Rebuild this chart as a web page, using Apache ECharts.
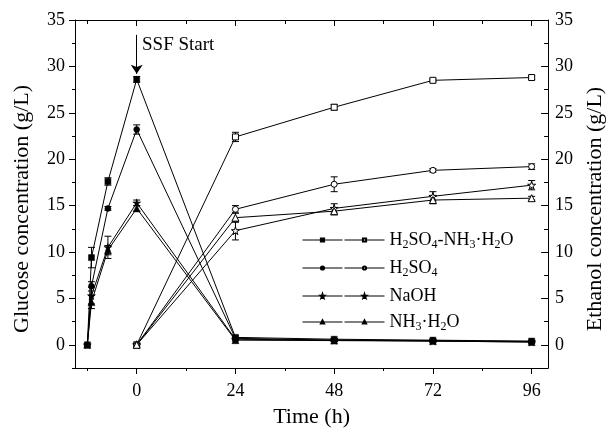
<!DOCTYPE html>
<html>
<head>
<meta charset="utf-8">
<script src="https://cdn.jsdelivr.net/npm/echarts@6/dist/echarts.min.js"></script>
<style>
  html, body { margin: 0; padding: 0; background: #fff; }
  #main { width: 614px; height: 433px; }
</style>
</head>
<body>
<div id="main"></div>
<script>
// time points (h); negative = pre-hydrolysis, 0 = SSF start
var timeGlu = [-12, -11, -7, 0, 24, 48, 72, 96];
var timeEth = [0, 24, 48, 72, 96];
var xMajor = [0, 24, 48, 72, 96];
var xMinor = [-12, 12, 36, 60, 84];
var yMajor = [0, 5, 10, 15, 20, 25, 30, 35];
var yMinor = [-2.5, 2.5, 7.5, 12.5, 17.5, 22.5, 27.5, 32.5];

// legend labels (rich text with subscripts)
var labels = [
  'H{s|2}SO{s|4}-NH{s|3}·H{s|2}O',
  'H{s|2}SO{s|4}',
  'NaOH',
  'NH{s|3}·H{s|2}O'
];

// glucose (g/L), filled markers, left axis
var gluMix  = [0, 9.4, 17.6, 28.6, 0.8, 0.6, 0.5, 0.4];
var gluSA   = [0, 6.3, 14.7, 23.2, 0.7, 0.5, 0.45, 0.35];
var gluNaOH = [0, 5.3, 10.5, 15.3, 0.6, 0.5, 0.4, 0.3];
var gluNH3  = [0, 4.6, 10.2, 14.7, 0.5, 0.45, 0.4, 0.3];
var gluErrMix  = [0, 1.1, 0.4, 0.3, 0.15, 0.1, 0.1, 0.1];
var gluErrSA   = [0, 0.5, 0.2, 0.5, 0.1, 0.1, 0.1, 0.1];
var gluErrNaOH = [0, 0.9, 1.2, 0.3, 0.1, 0.1, 0.1, 0.1];
var gluErrNH3  = [0, 0.7, 0.5, 0.3, 0.1, 0.1, 0.1, 0.1];

// ethanol (g/L), open markers, right axis
var ethMix  = [0, 22.4, 25.6, 28.5, 28.8];
var ethSA   = [0, 14.6, 17.3, 18.8, 19.2];
var ethNaOH = [0, 12.3, 14.7, 16.0, 17.2];
var ethNH3  = [0, 13.7, 14.4, 15.6, 15.8];
var ethErrMix  = [0, 0.5, 0.3, 0.15, 0.2];
var ethErrSA   = [0, 0.4, 0.8, 0.2, 0.3];
var ethErrNaOH = [0, 1.0, 0.5, 0.5, 0.5];
var ethErrNH3  = [0, 0.5, 0.4, 0.4, 0.2];

var FONT = 'Liberation Serif';
var STAR = 'path://M50,0 L61,35 L98,35 L68,57 L79,91 L50,70 L21,91 L32,57 L2,35 L39,35 Z';
var symbols = ['rect', 'circle', STAR, 'triangle'];
var symSizes = [6, 6, 8, 7];

var gluData = [gluMix, gluSA, gluNaOH, gluNH3];
var gluErr = [gluErrMix, gluErrSA, gluErrNaOH, gluErrNH3];
var ethData = [ethMix, ethSA, ethNaOH, ethNH3];
var ethErr = [ethErrMix, ethErrSA, ethErrNaOH, ethErrNH3];

function pairs(xs, ys) {
  return xs.map(function (x, i) { return [x, ys[i]]; });
}
function triples(xs, ys, es) {
  return xs.map(function (x, i) { return [x, ys[i], es[i]]; });
}

function errorBarItem(params, api) {
  var x = api.value(0), y = api.value(1), e = api.value(2);
  if (!e) return { type: 'group', children: [] };
  var hi = api.coord([x, y + e]);
  var lo = api.coord([x, y - e]);
  var w = 3.5;
  var st = { stroke: '#000', lineWidth: 1 };
  return {
    type: 'group',
    children: [
      { type: 'line', shape: { x1: hi[0], y1: hi[1], x2: lo[0], y2: lo[1] }, style: st },
      { type: 'line', shape: { x1: hi[0] - w, y1: hi[1], x2: hi[0] + w, y2: hi[1] }, style: st },
      { type: 'line', shape: { x1: lo[0] - w, y1: lo[1], x2: lo[0] + w, y2: lo[1] }, style: st }
    ]
  };
}

var series = [];
var gluNames = [], ethNames = [];
for (var i = 0; i < 4; i++) {
  gluNames.push('g' + i);
  ethNames.push('e' + i);
  series.push({
    name: 'g' + i,
    type: 'line',
    xAxisIndex: 0,
    yAxisIndex: 0,
    data: pairs(timeGlu, gluData[i]),
    symbol: symbols[i],
    symbolSize: symSizes[i],
    showAllSymbol: true,
    itemStyle: { color: '#000', borderColor: '#000', borderWidth: 0.5 },
    lineStyle: { color: '#000', width: 1 },
    z: 3
  });
  series.push({
    name: 'e' + i,
    type: 'line',
    xAxisIndex: 0,
    yAxisIndex: 2,
    data: pairs(timeEth, ethData[i]),
    symbol: symbols[i],
    symbolSize: symSizes[i],
    showAllSymbol: true,
    itemStyle: { color: '#fff', borderColor: '#000', borderWidth: 1 },
    lineStyle: { color: '#000', width: 1 },
    z: 3
  });
  series.push({
    type: 'custom',
    xAxisIndex: 0,
    yAxisIndex: 0,
    renderItem: errorBarItem,
    data: triples(timeGlu, gluData[i], gluErr[i]),
    encode: { x: 0, y: 1 },
    z: 2
  });
  series.push({
    type: 'custom',
    xAxisIndex: 0,
    yAxisIndex: 2,
    renderItem: errorBarItem,
    data: triples(timeEth, ethData[i], ethErr[i]),
    encode: { x: 0, y: 1 },
    z: 2
  });
}

// SSF start annotation (arrow + text)
series[0].markLine = {
  silent: true,
  symbol: ['none', 'arrow'],
  symbolSize: 9,
  lineStyle: { color: '#000', width: 1, type: 'solid' },
  label: { show: false },
  data: [[{ coord: [0, 33.4] }, { coord: [0, 29.2] }]]
};
series[0].markPoint = {
  silent: true,
  symbol: 'circle',
  symbolSize: 0,
  label: {
    show: true, position: 'right', distance: 0, formatter: 'SSF Start',
    color: '#000', fontFamily: FONT, fontSize: 19
  },
  data: [{ coord: [1.3, 32.3] }]
};

function legendRich(color) {
  return {
    color: color, fontFamily: FONT, fontSize: 18,
    rich: { s: { fontSize: 12, fontFamily: FONT, color: color, padding: [10, 0, 0, 0] } }
  };
}
function legendFmt(name) {
  return labels[+name.slice(1)];
}

var axisLineStyle = { color: '#000', width: 1 };
var tickLabel = { color: '#000', fontFamily: FONT, fontSize: 18 };

function xAxisDef(pos, ticks, len, major) {
  return {
    type: 'value', min: -15, max: 100, position: pos,
    axisLine: { show: major, onZero: false, lineStyle: axisLineStyle },
    axisTick: { show: true, inside: pos === 'top', customValues: ticks, length: len, lineStyle: axisLineStyle },
    axisLabel: pos === 'bottom' && major
      ? Object.assign({ customValues: xMajor, margin: 14 }, tickLabel)
      : { show: false },
    splitLine: { show: false }
  };
}
function yAxisDef(pos, ticks, len, major) {
  return {
    type: 'value', min: -2.5, max: 35, position: pos,
    axisLine: { show: major, onZero: false, lineStyle: axisLineStyle },
    axisTick: { show: true, inside: pos === 'right', customValues: ticks, length: len, lineStyle: axisLineStyle },
    axisLabel: major
      ? Object.assign({ customValues: yMajor, margin: pos === 'left' ? 10 : 7 }, tickLabel)
      : { show: false },
    splitLine: { show: false }
  };
}

var xAxes = [
  xAxisDef('bottom', xMajor, 6, true),
  xAxisDef('bottom', xMinor, 3, false),
  xAxisDef('top', xMajor, 6, true),
  xAxisDef('top', xMinor, 4, false)
];
Object.assign(xAxes[0], {
  name: 'Time (h)', nameLocation: 'middle', nameGap: 38,
  nameTextStyle: { color: '#000', fontFamily: FONT, fontSize: 22 }
});

var yAxes = [
  yAxisDef('left', yMajor, 6, true),
  yAxisDef('left', yMinor, 3, false),
  yAxisDef('right', yMajor, 7, true),
  yAxisDef('right', yMinor, 4, false)
];
Object.assign(yAxes[0], {
  name: 'Glucose concentration (g/L)', nameLocation: 'middle', nameGap: 42,
  nameTextStyle: { color: '#000', fontFamily: FONT, fontSize: 22, padding: [0, 30, 0, 0] }
});
Object.assign(yAxes[2], {
  name: 'Ethanol concentration (g/L)', nameLocation: 'middle', nameGap: 35,
  nameTextStyle: { color: '#000', fontFamily: FONT, fontSize: 22, padding: [0, 30, 0, 0] }
});

var legendCommon = {
  top: 226, orient: 'vertical',
  itemWidth: 40, itemHeight: 4, itemGap: 8, selectedMode: false,
  lineStyle: { width: 1 },
  formatter: legendFmt
};

var myChart = echarts.init(document.getElementById('main'));
myChart.setOption({
  animation: false,
  backgroundColor: '#fff',
  grid: { left: 75, right: 64, top: 20, bottom: 61 },
  legend: [
    Object.assign({ data: gluNames, left: 297, textStyle: legendRich('transparent') }, legendCommon),
    Object.assign({ data: ethNames, left: 339, textStyle: legendRich('#000') }, legendCommon)
  ],
  xAxis: xAxes,
  yAxis: yAxes,
  series: series
});
window.onresize = function () {
  myChart.resize();
};
</script>
</body>
</html>
